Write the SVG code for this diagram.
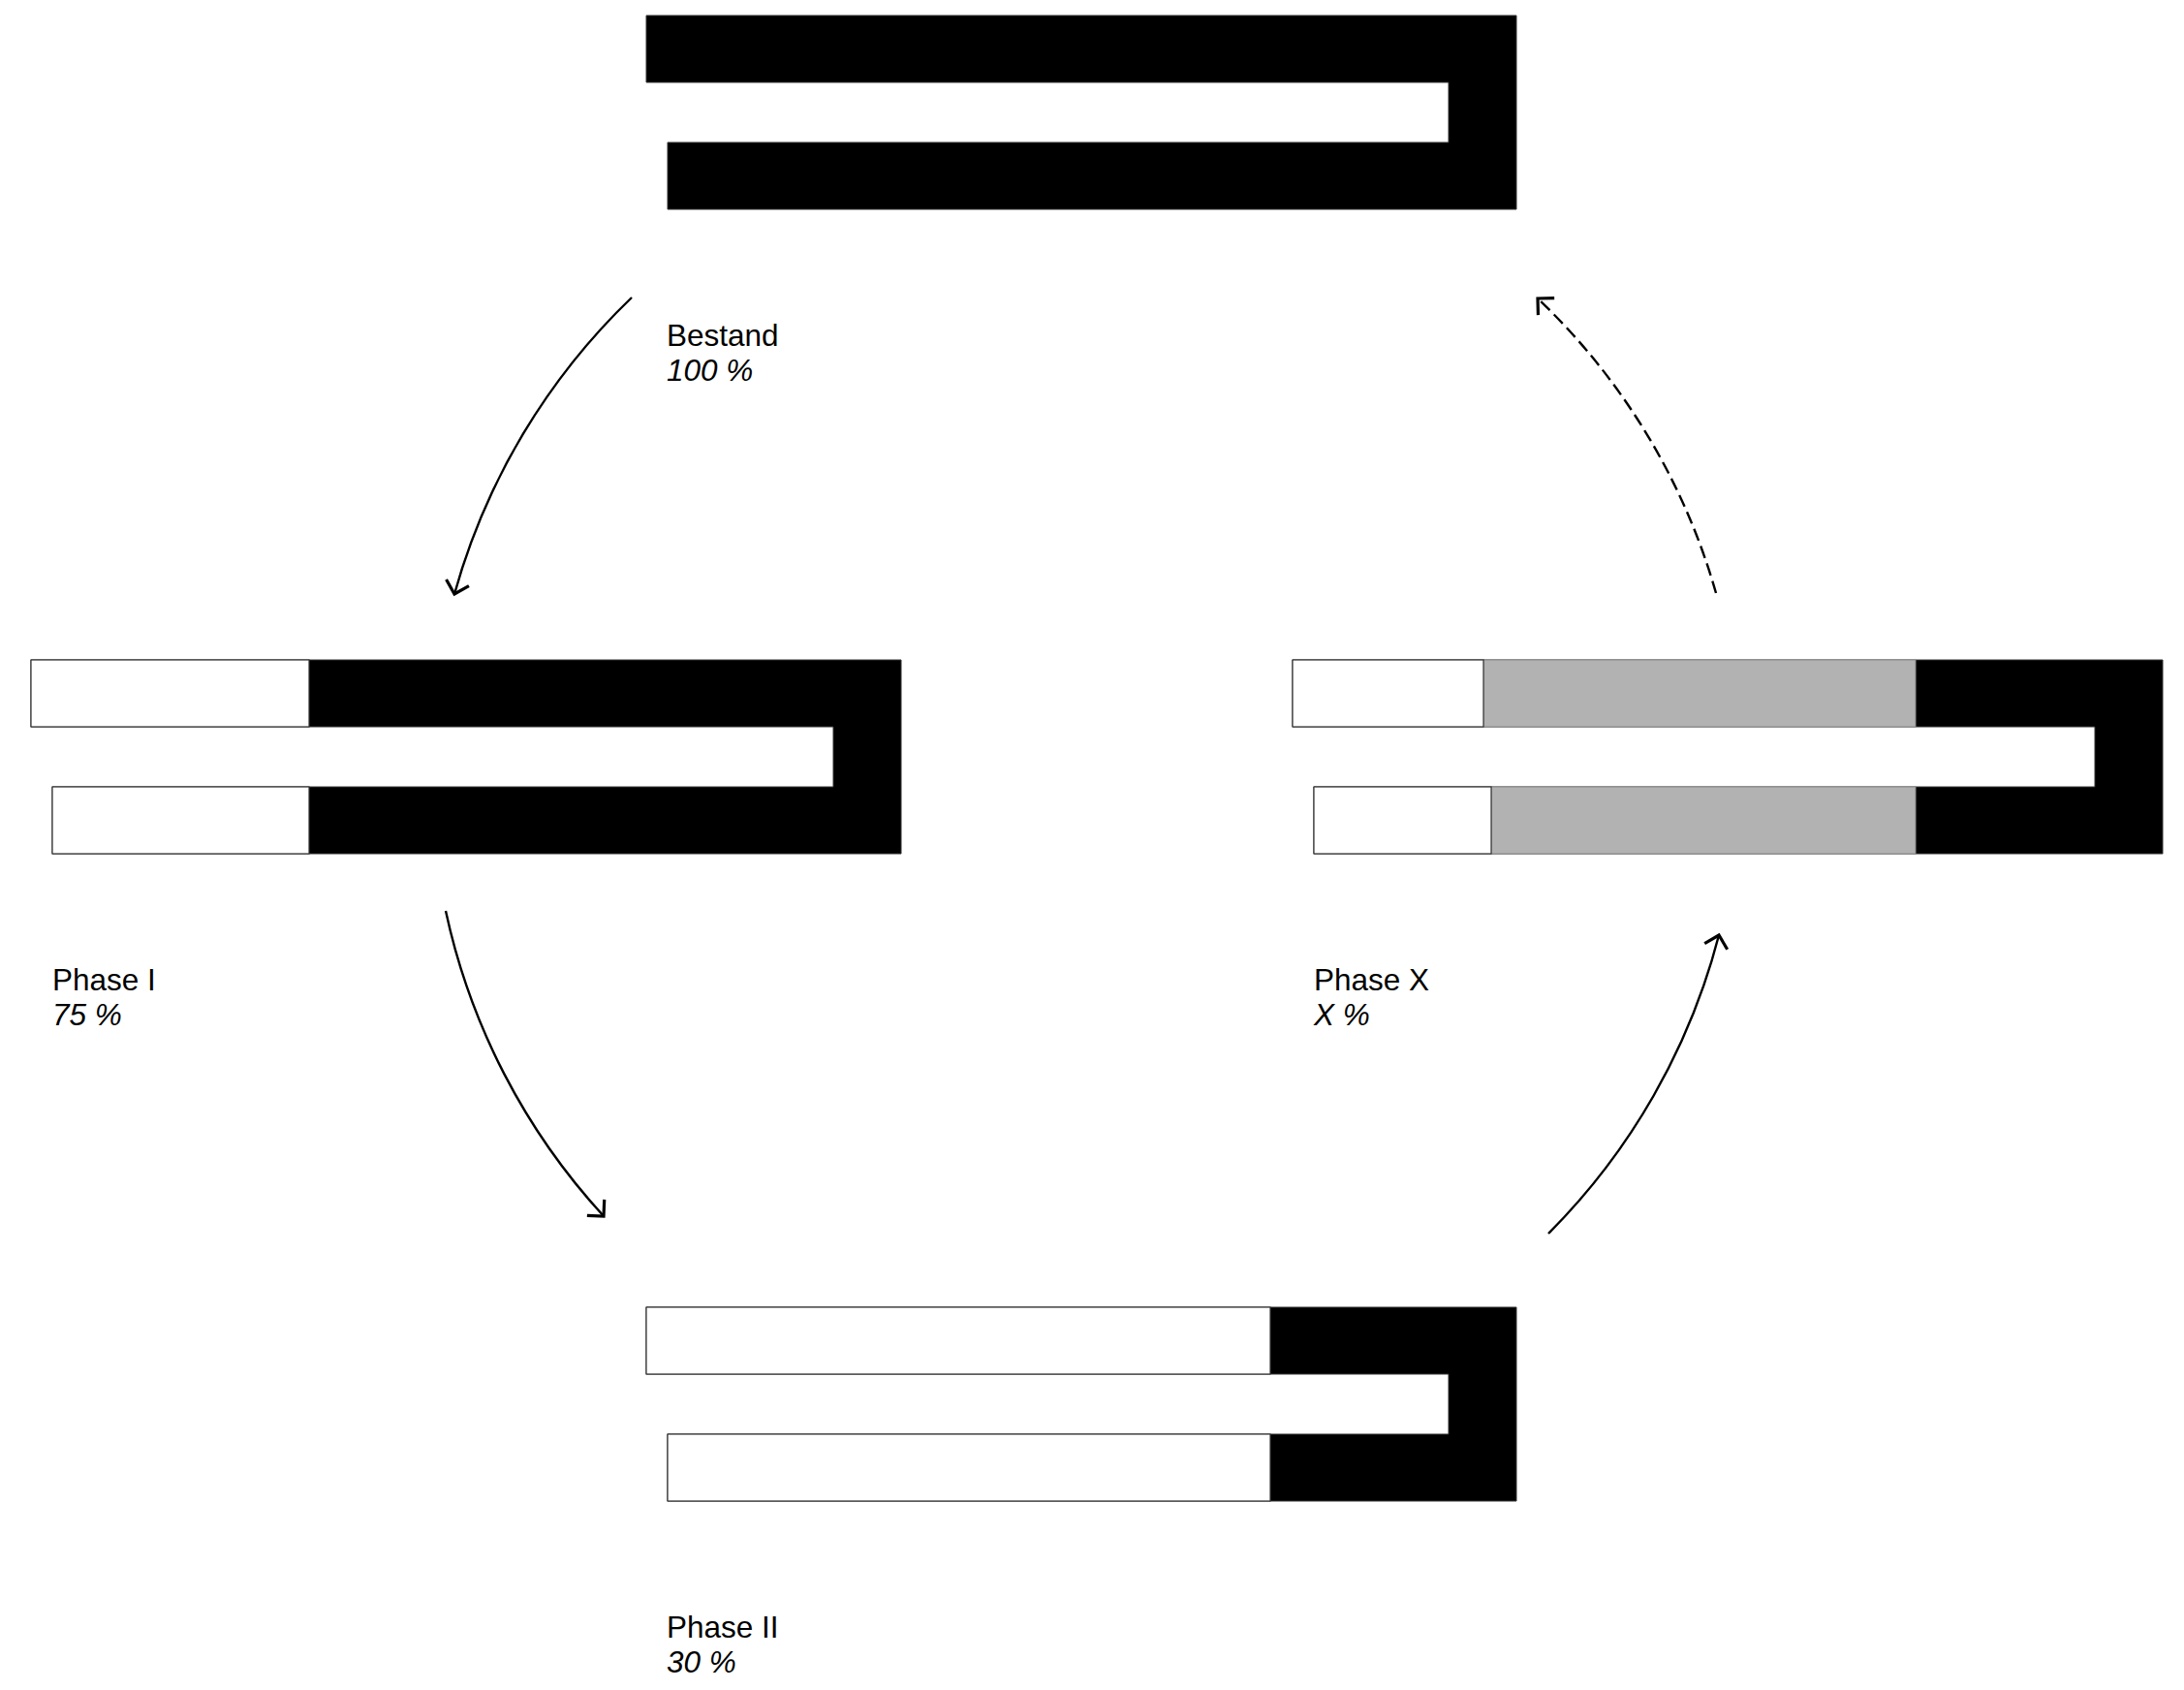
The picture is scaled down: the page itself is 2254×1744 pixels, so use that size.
<svg xmlns="http://www.w3.org/2000/svg" xmlns:xlink="http://www.w3.org/1999/xlink" width="2254" height="1744" viewBox="0 0 2254 1744">
<style>
  .c { fill: #000; stroke: #333; stroke-width: 1; }
  .w { fill: #fff; stroke: #333; stroke-width: 1.2; }
  .g { fill: #b2b2b2; stroke: #888; stroke-width: 1; }
  .lbl { font-family: "Liberation Sans", Arial, sans-serif; font-size: 31.5px; fill: #000; }
  .it { font-style: italic; }
  .arr { fill: none; stroke: #000; stroke-width: 2.4; marker-end: url(#ah); }
  .dash { stroke-dasharray: 13 6; }
</style>
<defs>
  <path id="cshape" d="M0,0 H898 V200 H22 V131 H828 V69 H0 Z"/>
  <marker id="ah" markerUnits="userSpaceOnUse" markerWidth="32" markerHeight="32" viewBox="-16 -16 32 32" refX="0" refY="0" orient="auto">
    <path d="M-11,-11 L0,0 L-11,11" fill="none" stroke="#000" stroke-width="3.2" stroke-linecap="square"/>
  </marker>
</defs>
<rect width="2254" height="1744" fill="#fff"/>

<g id="bestand">
  <use xlink:href="#cshape" href="#cshape" x="667" y="16" class="c"/>
  <text class="lbl" x="688" y="357">Bestand</text>
  <text class="lbl it" x="688" y="393">100 %</text>
</g>

<g id="phase1">
  <use xlink:href="#cshape" href="#cshape" x="32" y="681" class="c"/>
  <rect class="w" x="32" y="681" width="287" height="69"/>
  <rect class="w" x="54" y="812" width="265" height="69"/>
  <text class="lbl" x="54" y="1022">Phase I</text>
  <text class="lbl it" x="54" y="1058">75 %</text>
</g>

<g id="phase2">
  <use xlink:href="#cshape" href="#cshape" x="667" y="1349" class="c"/>
  <rect class="w" x="667" y="1349" width="644" height="69"/>
  <rect class="w" x="689" y="1480" width="622" height="69"/>
  <text class="lbl" x="688" y="1690">Phase II</text>
  <text class="lbl it" x="688" y="1726">30 %</text>
</g>

<g id="phaseX">
  <use xlink:href="#cshape" href="#cshape" x="1334" y="681" class="c"/>
  <rect class="g" x="1531" y="681" width="446" height="69"/>
  <rect class="g" x="1539" y="812" width="438" height="69"/>
  <rect class="w" x="1334" y="681" width="197" height="69"/>
  <rect class="w" x="1356" y="812" width="183" height="69"/>
  <text class="lbl" x="1356" y="1022">Phase X</text>
  <text class="lbl it" x="1356" y="1058">X %</text>
</g>

<g id="connectors">
  <path class="arr" d="M652,307 A675,675 0 0 0 469,613"/>
  <path class="arr" d="M460,940 A675,675 0 0 0 623,1255"/>
  <path class="arr" d="M1598,1273 A675,675 0 0 0 1774,965"/>
  <path class="arr dash" d="M1771,612 A675,675 0 0 0 1587,308"/>
</g>
</svg>
